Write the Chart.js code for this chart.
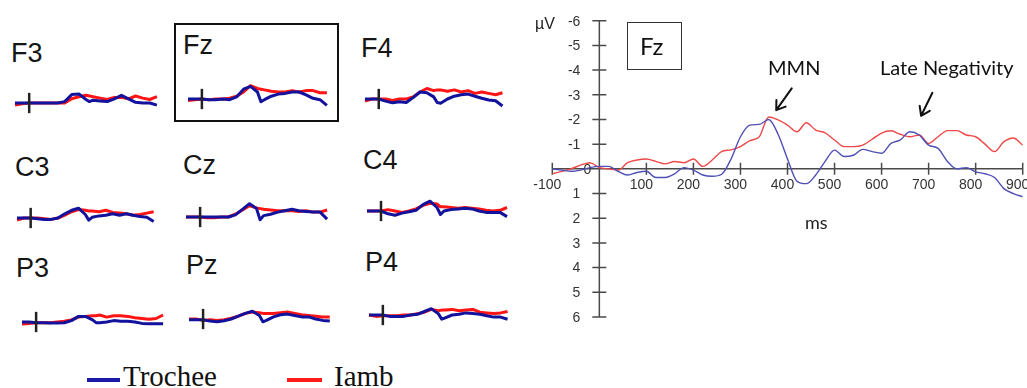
<!DOCTYPE html>
<html>
<head>
<meta charset="utf-8">
<script src="https://cdn.jsdelivr.net/npm/chart.js@4.4.1/dist/chart.umd.min.js"></script>
<style>
  html, body { margin: 0; padding: 0; background: #fff; }
  body { width: 1027px; height: 388px; overflow: hidden; position: relative; font-family: 'Liberation Sans', Arial, sans-serif; }
  canvas { position: absolute; }
</style>
</head>
<body>
<script>
// ---------------- DATA ----------------
// Small topographic panels: common time grid (ms), values in µV (negative = up)
const smallTimes = [-100,-50,0,50,100,150,200,250,300,350,400,425,450,500,550,600,650,700,750,800,850,900];

const f3Trochee = [0,0,0,0,0,0,0,-0.2,-1.2,-1.3,-0.5,-0.2,-0.4,-0.3,-0.2,-0.6,-1.1,-0.6,-0.1,0,0,0.3];
const f3Iamb    = [0.3,0.1,0,0,0,0,0,0,-0.6,-0.9,-1.1,-1.0,-0.9,-0.7,-0.5,-0.8,-0.8,-0.6,-1.0,-0.7,-0.5,-0.9];
const fzTrochee = [0,0,0,0.1,0.1,0,0.1,-0.3,-1.4,-1.8,-1.0,0.4,0.1,-0.4,-0.7,-0.8,-1.0,-1.0,-0.6,-0.1,0.1,0.9];
const fzIamb    = [0.2,0.1,0,0.1,0,0,-0.1,-0.4,-1.0,-1.9,-1.5,-1.4,-1.3,-1.1,-1.0,-1.0,-1.2,-1.0,-1.2,-1.2,-0.9,-0.9];
const f4Trochee = [0,0,0,0.3,0.55,0.4,0.5,-0.2,-1.0,-0.9,-0.3,0.5,0.6,0,-0.4,-0.6,-0.7,-0.4,-0.1,0.15,0.25,1.0];
const f4Iamb    = [0.3,0,0,0,0.2,0,0,-0.3,-1.0,-1.5,-1.2,-1.3,-1.3,-1.1,-1.3,-1.0,-1.2,-0.8,-1.0,-0.8,-0.6,-0.9];
const c3Trochee = [0,0,0,0.1,0.2,0.2,0,-0.6,-1.1,-1.4,-0.5,0.3,-0.1,-0.3,-0.4,-0.6,-0.4,-0.6,-0.4,-0.2,-0.1,0.5];
const c3Iamb    = [0.3,0,0,0,0.1,0.2,0,-0.4,-0.9,-1.2,-1.1,-1.0,-1.0,-0.9,-1.1,-0.8,-0.7,-0.6,-0.4,-0.5,-0.7,-0.9];
const czTrochee = [0,0,0,0,0,0,0,-0.3,-1.1,-1.9,-1.2,0.4,-0.2,-0.4,-0.7,-0.9,-1.1,-0.9,-0.8,-0.7,-0.7,0.3];
const czIamb    = [0,0,0,0.1,0.1,0,0,-0.4,-1.0,-1.6,-1.3,-1.2,-1.1,-1.0,-0.9,-0.9,-0.9,-0.8,-0.9,-0.7,-0.7,-1.0];
const c4Trochee = [0,0,0,0.4,0.6,0.3,0.1,-0.1,-0.9,-1.4,-0.5,0.5,0,-0.2,-0.3,-0.4,-0.3,0,0.2,0.2,0.2,0.8];
const c4Iamb    = [0,0,0,-0.2,0,0.2,0,-0.3,-0.8,-1.1,-1.0,-0.6,-0.6,-0.5,-0.4,-0.5,-0.4,-0.3,-0.1,0,-0.1,-0.5];
const p3Trochee = [0,0,0.1,0.1,0.15,0.15,0.1,-0.2,-0.8,-0.8,-0.3,0.1,0.1,0,-0.2,-0.1,-0.1,0,0.2,0.25,0.25,0.25];
const p3Iamb    = [0.3,0.2,0.1,0.1,0.1,0,-0.1,-0.3,-0.7,-0.8,-0.9,-0.9,-1.0,-0.7,-0.9,-0.9,-0.8,-0.6,-0.5,-0.4,-0.5,-1.0];
const pzTrochee = [0.1,0.1,0.1,0.3,0.4,0.25,0,-0.4,-0.8,-1.1,-0.5,0.4,0.2,-0.3,-0.6,-0.7,-0.5,-0.3,-0.3,0,0.2,0.3];
const pzIamb    = [0,0,0.2,0.1,0.2,0.1,-0.1,-0.4,-0.8,-1.0,-0.9,-0.8,-0.8,-0.8,-0.9,-1.0,-0.8,-0.6,-0.5,-0.4,-0.3,-0.3];
const p4Trochee = [0,0,0,0.2,0.2,0.2,0,-0.1,-0.5,-0.9,-0.2,0.6,0.4,0,-0.1,-0.3,-0.2,-0.1,0.1,0.3,0.3,0.6];
const p4Iamb    = [0,0.2,0.1,0.1,0.1,0,0,-0.2,-0.4,-0.8,-0.6,-0.7,-0.7,-0.8,-0.6,-0.7,-0.8,-0.4,-0.3,-0.2,-0.3,-0.5];

// Large Fz plot: time (ms) every 20 ms, values in µV (negative plotted up)
const fzTimes = [-100,-80,-60,-40,-20,0,20,40,60,80,100,120,140,160,180,200,220,240,260,280,300,320,340,360,380,400,420,440,460,480,500,520,540,560,580,600,620,640,660,680,700,720,740,760,780,800,820,840,860,880,900];
const fzBigTrochee = [0,0.05,0.1,0.05,-0.05,-0.1,-0.1,0.1,0.25,0.15,0.1,0.35,0.35,0.2,-0.05,0.05,0.25,0.3,0.22,-0.4,-1.3,-1.77,-1.8,-2.0,-1.4,-0.4,0.5,0.6,0.25,-0.3,-0.76,-0.5,-0.55,-0.79,-0.7,-0.63,-1.03,-1.17,-1.5,-1.37,-0.96,-0.83,-0.3,0,-0.05,0.12,0.2,0.35,0.8,1.0,1.13];
const fzBigIamb    = [0.2,0.1,0,-0.15,-0.25,-0.05,0,0.05,-0.25,-0.36,-0.4,-0.3,-0.2,-0.3,-0.25,-0.4,-0.1,-0.36,-0.7,-0.77,-0.9,-1.14,-1.3,-2.1,-1.98,-1.77,-1.5,-1.87,-1.57,-1.46,-1.17,-0.9,-0.9,-0.96,-1.2,-1.45,-1.54,-1.4,-1.3,-1.37,-1.03,-1.3,-1.55,-1.55,-1.37,-1.3,-1.0,-0.7,-1.1,-1.25,-0.96];

const yTicks = [-6,-5,-4,-3,-2,-1,0,1,2,3,4,5,6];
const xTicks = [-100,100,200,300,400,500,600,700,800,900];
const xTickMarks = [-100,0,100,200,300,400,500,600,700,800,900];

const seriesNames = ['Trochee', 'Iamb'];
const panelNames = ['F3','Fz','F4','C3','Cz','C4','P3','Pz','P4'];
const panelTrochee = [f3Trochee,fzTrochee,f4Trochee,c3Trochee,czTrochee,c4Trochee,p3Trochee,pzTrochee,p4Trochee];
const panelIamb = [f3Iamb,fzIamb,f4Iamb,c3Iamb,czIamb,c4Iamb,p3Iamb,pzIamb,p4Iamb];

// ---------------- LAYOUT ----------------
const panelLayout = [
  {cross: 29.3, end: 157, base: 102.5, lx: 11,  ly: 39.8},
  {cross: 202,  end: 327, base: 99,    lx: 183, ly: 32.1},
  {cross: 378.3,end: 502, base: 99,    lx: 361, ly: 35.1},
  {cross: 31,   end: 154, base: 217.7, lx: 15,  ly: 153.8},
  {cross: 200,  end: 327, base: 217,   lx: 183, ly: 152.1},
  {cross: 381,  end: 507, base: 211,   lx: 363, ly: 147.1},
  {cross: 36,   end: 163, base: 322,   lx: 16,  ly: 255.1},
  {cross: 203.3,end: 330, base: 318.7, lx: 186, ly: 252.1},
  {cross: 383.3,end: 508, base: 315.3, lx: 365, ly: 249.1}
];
const BLUE_S = '#12129c', RED_S = '#ff1414';
const BLUE_B = '#4f4fb6', RED_B = '#ef4848';

function el(tag, style, text) {
  const e = document.createElement(tag);
  Object.assign(e.style, style);
  if (text !== undefined) e.textContent = text;
  document.body.appendChild(e);
  return e;
}
function pts(times, vals) { return times.map((t, i) => ({x: t, y: vals[i]})); }

// cross marker plugin for small panels
const crossPlugin = {
  id: 'crossMark',
  afterDatasetsDraw(chart) {
    const {ctx, scales: {x, y}} = chart;
    ctx.save();
    ctx.strokeStyle = '#222';
    ctx.lineWidth = 2.5;
    ctx.beginPath();
    const px = x.getPixelForValue(0);
    ctx.moveTo(px, y.getPixelForValue(-1.45));
    ctx.lineTo(px, y.getPixelForValue(1.45));
    ctx.stroke();
    ctx.restore();
  }
};

// ---- small panels ----
panelNames.forEach((name, i) => {
  const L = panelLayout[i];
  const start = L.cross - (L.end - L.cross) / 9;
  const pad = 4;
  const cv = document.createElement('canvas');
  const w = Math.round(L.end - start + 2 * pad), h = 50;
  cv.width = w; cv.height = h;
  cv.style.left = (start - pad) + 'px';
  cv.style.top = (L.base - 25) + 'px';
  cv.style.width = w + 'px'; cv.style.height = h + 'px';
  document.body.appendChild(cv);
  new Chart(cv, {
    type: 'line',
    data: {
      datasets: [
        {label: seriesNames[0], data: pts(smallTimes, panelTrochee[i]), borderColor: BLUE_S, borderWidth: 3, pointRadius: 0, tension: 0, borderJoinStyle: 'round', clip: false},
        {label: seriesNames[1], data: pts(smallTimes, panelIamb[i]), borderColor: RED_S, borderWidth: 3, pointRadius: 0, tension: 0, borderJoinStyle: 'round', clip: false}
      ]
    },
    options: {
      responsive: false, animation: false, devicePixelRatio: 1,
      layout: {padding: {left: pad, right: (w - (L.end - start) - pad), top: 4, bottom: 4}},
      plugins: {legend: {display: false}, tooltip: {enabled: false}},
      scales: {
        x: {type: 'linear', min: -100, max: 900, display: false},
        y: {min: -3, max: 3, reverse: true, display: false}
      }
    },
    plugins: [crossPlugin]
  });
  el('div', {position: 'absolute', left: L.lx + 'px', top: L.ly + 'px', fontSize: '27px', lineHeight: '27px', color: '#151515', whiteSpace: 'nowrap'}, name);
});

// Box around small Fz panel
el('div', {position: 'absolute', left: '174px', top: '23px', width: '165px', height: '99px', border: '2px solid #111', boxSizing: 'border-box'});

// Legend
el('div', {position: 'absolute', left: '87px', top: '378px', width: '33px', height: '4px', background: '#1a1aa6'});
el('div', {position: 'absolute', left: '123px', top: '362.2px', fontFamily: "'Liberation Serif', 'Times New Roman', serif", fontSize: '29px', lineHeight: '29px', color: '#111', whiteSpace: 'nowrap'}, seriesNames[0]);
el('div', {position: 'absolute', left: '287px', top: '378px', width: '35px', height: '4px', background: '#ff1a1a'});
el('div', {position: 'absolute', left: '334px', top: '362.2px', fontFamily: "'Liberation Serif', 'Times New Roman', serif", fontSize: '29px', lineHeight: '29px', color: '#111', whiteSpace: 'nowrap'}, seriesNames[1]);

// ---- big Fz plot ----
function arrow(ctx, x1, y1, x2, y2) {
  const ang = Math.atan2(y2 - y1, x2 - x1);
  const hl = 10;
  ctx.beginPath();
  ctx.moveTo(x1, y1); ctx.lineTo(x2, y2);
  ctx.moveTo(x2, y2); ctx.lineTo(x2 - hl * Math.cos(ang - 0.6), y2 - hl * Math.sin(ang - 0.6));
  ctx.moveTo(x2, y2); ctx.lineTo(x2 - hl * Math.cos(ang + 0.6), y2 - hl * Math.sin(ang + 0.6));
  ctx.stroke();
}
const axesPlugin = {
  id: 'eegAxes',
  beforeDatasetsDraw(chart) {
    const {ctx, scales: {x, y}} = chart;
    const x0 = x.getPixelForValue(0), y0 = y.getPixelForValue(0);
    ctx.save();
    ctx.strokeStyle = '#4a4a4a';
    ctx.lineWidth = 1.5;
    ctx.beginPath();
    ctx.moveTo(x0, y.getPixelForValue(-6)); ctx.lineTo(x0, y.getPixelForValue(6));
    ctx.moveTo(x.getPixelForValue(-100), y0); ctx.lineTo(x.getPixelForValue(900), y0);
    yTicks.forEach(v => { const py = y.getPixelForValue(v); ctx.moveTo(x0 - 7, py); ctx.lineTo(x0 + 7, py); });
    xTickMarks.forEach(v => { const px = x.getPixelForValue(v); ctx.moveTo(px, y0 - 6); ctx.lineTo(px, y0 + 6); });
    ctx.stroke();
    ctx.fillStyle = '#333';
    ctx.font = "14px 'Liberation Sans', Arial, sans-serif";
    ctx.textBaseline = 'middle';
    ctx.textAlign = 'right';
    yTicks.forEach(v => {
      const py = y.getPixelForValue(v);
      ctx.fillText(String(v), v === 0 ? x0 - 8 : x0 - 19, py + 1);
    });
    ctx.textAlign = 'center';
    xTicks.forEach(v => {
      const px = x.getPixelForValue(v);
      ctx.fillText(String(v), px - 5, y0 + 16);
    });
    ctx.restore();
  },
  afterDatasetsDraw(chart) {
    const {ctx, scales: {x, y}} = chart;
    ctx.save();
    ctx.strokeStyle = '#111';
    ctx.lineWidth = 2;
    ctx.lineCap = 'round';
    arrow(ctx, x.getPixelForValue(409), y.getPixelForValue(-3.26), x.getPixelForValue(376), y.getPixelForValue(-2.38));
    arrow(ctx, x.getPixelForValue(708), y.getPixelForValue(-3.08), x.getPixelForValue(684), y.getPixelForValue(-2.15));
    ctx.restore();
  }
};

const big = document.createElement('canvas');
big.width = 507; big.height = 330;
big.style.left = '520px'; big.style.top = '0px';
big.style.width = '507px'; big.style.height = '330px';
document.body.appendChild(big);
new Chart(big, {
  type: 'line',
  data: {
    datasets: [
      {label: seriesNames[0], data: pts(fzTimes, fzBigTrochee), borderColor: BLUE_B, borderWidth: 1.4, pointRadius: 0, tension: 0.35, cubicInterpolationMode: 'monotone'},
      {label: seriesNames[1], data: pts(fzTimes, fzBigIamb), borderColor: RED_B, borderWidth: 1.4, pointRadius: 0, tension: 0.35, cubicInterpolationMode: 'monotone'}
    ]
  },
  options: {
    responsive: false, animation: false, devicePixelRatio: 1,
    layout: {padding: {left: 32.3, right: 4.3, top: 20.7, bottom: 13}},
    plugins: {legend: {display: false}, tooltip: {enabled: false}},
    scales: {
      x: {type: 'linear', min: -100, max: 900, display: false},
      y: {min: -6, max: 6, reverse: true, display: false}
    }
  },
  plugins: [axesPlugin]
});

// Big plot annotations
el('div', {position: 'absolute', left: '535px', top: '15.8px', fontSize: '16px', lineHeight: '16px', color: '#222'}, 'µV');
el('div', {position: 'absolute', left: '626.5px', top: '22px', width: '55px', height: '48px', border: '1.5px solid #333', boxSizing: 'border-box', background: '#fff'});
el('div', {position: 'absolute', left: '640px', top: '33.7px', fontFamily: 'Lato, sans-serif', fontSize: '24px', lineHeight: '24px', color: '#111'}, 'Fz');
el('div', {position: 'absolute', left: '768px', top: '56.5px', fontFamily: 'Lato, sans-serif', fontSize: '20px', lineHeight: '20px', color: '#111', whiteSpace: 'nowrap'}, 'MMN');
el('div', {position: 'absolute', left: '880px', top: '56.5px', fontFamily: 'Lato, sans-serif', fontSize: '20px', lineHeight: '20px', color: '#111', whiteSpace: 'nowrap'}, 'Late Negativity');
el('div', {position: 'absolute', left: '805px', top: '213.3px', fontFamily: 'Lato, sans-serif', fontSize: '18px', lineHeight: '18px', color: '#222', whiteSpace: 'nowrap'}, 'ms');
</script>
</body>
</html>
